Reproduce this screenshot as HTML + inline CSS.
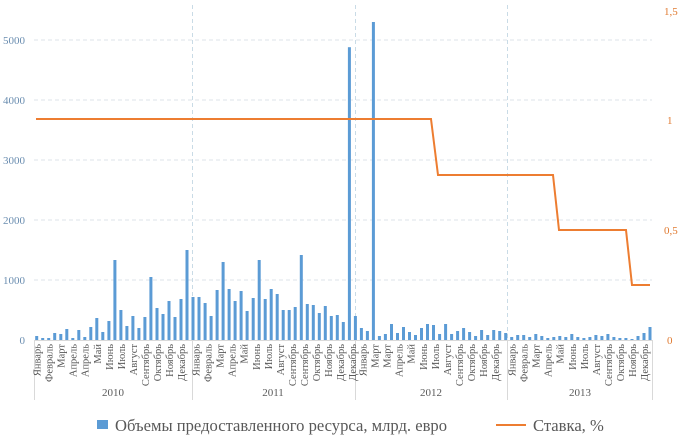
<!DOCTYPE html>
<html><head><meta charset="utf-8"><style>
html,body{margin:0;padding:0;background:#fff;}
svg{display:block;font-family:"Liberation Serif",serif;}
</style></head><body>
<svg id="c" width="687" height="445" viewBox="0 0 687 445" xmlns="http://www.w3.org/2000/svg">
<g stroke="#dde3ea" stroke-width="1" stroke-dasharray="4,3">
<line x1="34" y1="40" x2="652" y2="40"/><line x1="34" y1="100" x2="652" y2="100"/>
<line x1="34" y1="160" x2="652" y2="160"/><line x1="34" y1="220" x2="652" y2="220"/>
<line x1="34" y1="280" x2="652" y2="280"/>
</g>
<g stroke="#c9dbe6" stroke-width="1" stroke-dasharray="4,3">
<line x1="192.5" y1="5" x2="192.5" y2="340"/><line x1="355.5" y1="5" x2="355.5" y2="340"/><line x1="507.5" y1="5" x2="507.5" y2="340"/>
</g>
<g fill="#6a8db0" font-size="11" text-anchor="end">
<text x="25" y="344">0</text><text x="25" y="284">1000</text><text x="25" y="224">2000</text>
<text x="25" y="164">3000</text><text x="25" y="104">4000</text><text x="25" y="44">5000</text>
</g>
<g fill="#e07a30" font-size="11">
<text x="667" y="344">0</text><text x="664" y="234">0,5</text><text x="667" y="124">1</text><text x="664" y="15">1,5</text>
</g>
<g id="bars" fill="#5b9bd5"></g>
<g stroke="#d9d9d9" stroke-width="1">
<line x1="34" y1="340.5" x2="652" y2="340.5"/>
<line x1="34.5" y1="340" x2="34.5" y2="400"/><line x1="192.5" y1="340" x2="192.5" y2="400"/>
<line x1="355.5" y1="340" x2="355.5" y2="400"/><line x1="507.5" y1="340" x2="507.5" y2="400"/>
<line x1="652.5" y1="340" x2="652.5" y2="400"/>
</g>
<polyline fill="none" stroke="#ed7d31" stroke-width="2" points="36,119 431,119 438,175 553,175 559,230 626,230 632,285 650,285"/>
<g id="labs" fill="#595959" font-size="10.5"></g>
<g fill="#595959" font-size="11" text-anchor="middle">
<text x="113" y="396">2010</text><text x="273" y="396">2011</text><text x="431" y="396">2012</text><text x="580" y="396">2013</text>
</g>
<rect x="97" y="420" width="11" height="9" fill="#5b9bd5"/>
<text x="115" y="431" font-size="16.6" fill="#595959">Объемы предоставленного ресурса, млрд. евро</text>
<line x1="496" y1="425" x2="526" y2="425" stroke="#ed7d31" stroke-width="2"/>
<text x="533" y="431" font-size="16.6" fill="#595959">Ставка, %</text>
</svg>
<script>
var v=[67,33,33,117,100,183,33,167,50,217,367,133,317,1333,500,233,400,200,383,1050,533,433,650,383,683,1500,
717,717,617,400,833,1300,850,650,817,483,700,1333,683,850,767,500,500,550,1417,600,583,450,567,400,417,300,4880,
400,200,150,5300,67,100,267,117,217,133,83,200,267,250,100,267,100,150,200,133,67,167,83,167,150,
117,50,83,83,50,100,67,33,50,67,50,100,50,33,50,83,67,100,50,33,33,17,67,117,217];
var g=document.getElementById('bars'),s='';
var n=v.length,x0=36.7,dx=(650-36.7)/(n-1);
for(var i=0;i<n;i++){var h=v[i]*0.06,x=x0+i*dx;s+='<rect x="'+(x-1.5).toFixed(1)+'" y="'+(340-h).toFixed(1)+'" width="3" height="'+h.toFixed(1)+'"/>';}
g.innerHTML=s;
var L=[[37,["Январь","Февраль","Март","Апрель","Апрель","Май","Июнь","Июль","Август","Сентябрь","Октябрь","Ноябрь","Декабрь"]],
[196,["Январь","Февраль","Март","Апрель","Май","Июнь","Июль","Август","Сентябрь","Сентябрь","Октябрь","Ноябрь","Декабрь","Декабрь"]],
[363,["Январь","Март","Март","Апрель","Май","Июнь","Июль","Август","Сентябрь","Октябрь","Ноябрь","Декабрь"]],
[512,["Январь","Февраль","Март","Апрель","Май","Июнь","Июль","Август","Сентябрь","Октябрь","Ноябрь","Декабрь"]]];
var t='';
L.forEach(function(a){a[1].forEach(function(w,j){var x=a[0]+j*12.05+3.5;t+='<text transform="translate('+x.toFixed(1)+',344) rotate(-90)" text-anchor="end">'+w+'</text>';});});
document.getElementById('labs').innerHTML=t;
</script>
</body></html>
